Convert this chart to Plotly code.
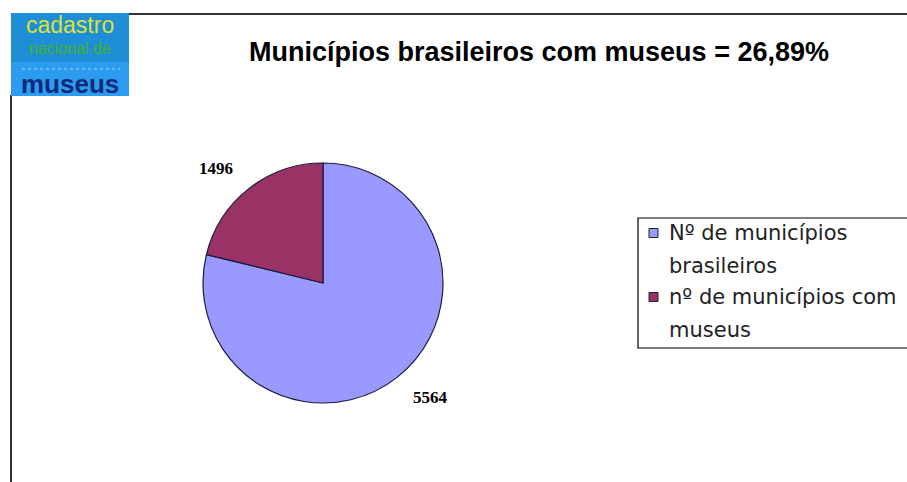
import math
import plotly.graph_objects as go

W, H = 907, 482

# Slice data
labels = ["Nº de municípios brasileiros", "nº de municípios com museus"]
legend_lines = [["Nº de municípios", "brasileiros"], ["nº de municípios com", "museus"]]
values = [5564, 1496]
colors = ["#9999FF", "#993366"]

title_text = "Municípios brasileiros com museus = 26,89%"

# pie geometry (pixels)
CX, CY, R = 323, 283, 120


def px(x):
    return x / W


def py(y):
    return 1 - y / H


fig = go.Figure()

fig.add_trace(go.Pie(
    labels=labels,
    values=values,
    marker=dict(colors=colors, line=dict(color="#1a1a40", width=1.2)),
    sort=False,
    direction="clockwise",
    rotation=0,
    textinfo="none",
    hoverinfo="label+value",
    domain=dict(x=[px(CX - R), px(CX + R)], y=[py(CY + R), py(CY - R)]),
    showlegend=False,
))

# value labels placed outside each slice, along its mid angle
total = sum(values)
annotations = []
cum = 0
for v in values:
    mid = (cum + v / 2) / total * 2 * math.pi  # clockwise from 12 o'clock
    cum += v
    lx = CX + 1.45 * R * math.sin(mid)
    ly = CY - 1.21 * R * math.cos(mid)
    annotations.append(dict(
        text="<b>%d</b>" % v, x=px(lx), y=py(ly), xref="paper", yref="paper",
        xanchor="center", yanchor="middle", showarrow=False,
        font=dict(family="Liberation Serif", size=17, color="black")))

shapes = [
    # chart frame (top and left edges)
    dict(type="line", xref="paper", yref="paper", x0=px(128), x1=1.01, y0=py(14), y1=py(14),
         line=dict(color="#333333", width=2)),
    dict(type="line", xref="paper", yref="paper", x0=px(11), x1=px(11), y0=py(95), y1=-0.01,
         line=dict(color="#333333", width=2)),
    # logo background
    dict(type="rect", xref="paper", yref="paper", x0=px(11), x1=px(129), y0=py(13), y1=py(62),
         fillcolor="#1f8ed6", line=dict(width=0), layer="above"),
    dict(type="rect", xref="paper", yref="paper", x0=px(11), x1=px(129), y0=py(62), y1=py(96),
         fillcolor="#2b9cf0", line=dict(width=0), layer="above"),
    # faint dotted rule inside the logo
    dict(type="line", xref="paper", yref="paper", x0=px(22), x1=px(120), y0=py(69), y1=py(69),
         line=dict(color="#86c4fb", width=1.5, dash="dot"), layer="above"),
    # legend box
    dict(type="rect", xref="paper", yref="paper", x0=px(638), x1=px(915), y0=py(348), y1=py(218),
         fillcolor="white", line=dict(color="black", width=1.2)),
]

# legend entries: colour key plus two text lines each
LEG_TOP = [233, 297]
for i, (col, lines) in enumerate(zip(colors, legend_lines)):
    yc = LEG_TOP[i]
    shapes.append(dict(type="rect", xref="paper", yref="paper",
                       x0=px(649), x1=px(658), y0=py(yc + 4.5), y1=py(yc - 4.5),
                       fillcolor=col, line=dict(color="#222222", width=1)))
    for j, line in enumerate(lines):
        annotations.append(dict(
            text=line, x=px(667), y=py(yc + 33 * j), xref="paper", yref="paper",
            xanchor="left", yanchor="middle", showarrow=False,
            font=dict(family="DejaVu Sans", size=21, color="#222222")))

annotations += [
    dict(text="<b>" + title_text + "</b>", x=px(539), y=py(52), xref="paper", yref="paper",
         xanchor="center", yanchor="middle", showarrow=False,
         font=dict(family="Liberation Sans", size=27, color="black")),
    # logo text
    dict(text="cadastro", x=px(70), y=py(25), xref="paper", yref="paper", showarrow=False,
         xanchor="center", yanchor="middle",
         font=dict(family="Liberation Sans", size=23, color="#d9e23a")),
    dict(text="nacional de", x=px(70), y=py(49), xref="paper", yref="paper", showarrow=False,
         xanchor="center", yanchor="middle",
         font=dict(family="Liberation Sans", size=16, color="#3fb52a")),
    dict(text="<b>museus</b>", x=px(70), y=py(84), xref="paper", yref="paper", showarrow=False,
         xanchor="center", yanchor="middle",
         font=dict(family="Liberation Sans", size=26, color="#0f2a7a")),
]

fig.update_layout(
    width=W, height=H,
    margin=dict(l=0, r=0, t=0, b=0),
    paper_bgcolor="white",
    plot_bgcolor="white",
    shapes=shapes,
    annotations=annotations,
    showlegend=False,
)

fig.write_html("out.html")
